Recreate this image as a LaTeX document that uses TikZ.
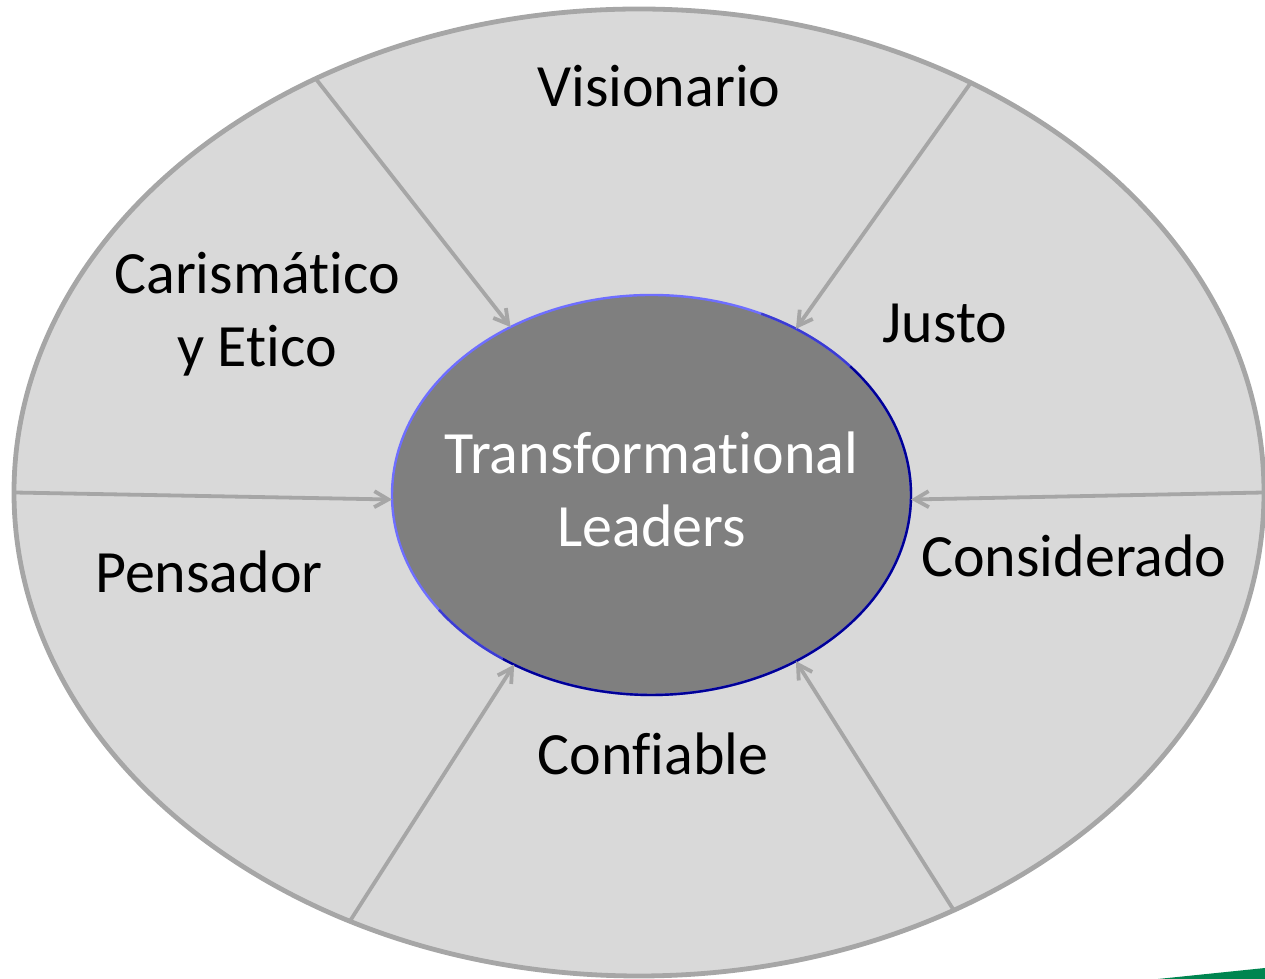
\documentclass[tikz,border=0pt]{standalone}
\usepackage{fontspec}
\setmainfont{Carlito}[Ligatures=NoCommon]
\usetikzlibrary{shapes, arrows.meta}
\definecolor{ringfill}{RGB}{217,217,217}
\definecolor{ringline}{RGB}{166,166,166}
\definecolor{corefill}{RGB}{127,127,127}
\definecolor{rimlight}{RGB}{110,110,255}
\definecolor{rimmid}{RGB}{60,60,210}
\definecolor{rimdark}{RGB}{0,0,150}
\definecolor{slidegreen}{RGB}{0,133,80}

\begin{document}
\begin{tikzpicture}[x=0.5pt, y=0.5pt, >={Straight Barb[length=7pt,width=8pt]},
    every node/.style={font=\fontsize{30}{36.5}\selectfont},
    spoke/.style={draw=ringline, line width=1.9pt}]
\useasboundingbox (0,0) rectangle (1265,979);
\fill[slidegreen] (1158,0) -- (1265,11) -- (1265,0) -- cycle;
\node[ellipse, draw=ringline, fill=ringfill, line width=2.4pt, outer sep=0pt,
    minimum width=625pt, minimum height=483.5pt] at (639, 486.5) (ring) {};
\node[ellipse, draw=rimlight, fill=corefill, line width=1.2pt, outer sep=0pt,
    minimum width=259.5pt, minimum height=200pt] at (651.5, 484) (core) {};
% darker rim toward the lower right
\draw[rimmid, line width=1.2pt] ([shift={(65:259.5 and 200)}]core.center)
    arc[start angle=65, end angle=40, x radius=259.5, y radius=200];
\draw[rimdark, line width=1.2pt] ([shift={(40:259.5 and 200)}]core.center)
    arc[start angle=40, end angle=-125, x radius=259.5, y radius=200];
\draw[rimmid, line width=1.2pt] ([shift={(-125:259.5 and 200)}]core.center)
    arc[start angle=-125, end angle=-145, x radius=259.5, y radius=200];
\path (ring.128) edge[spoke, ->] (core.130);
\path (ring.51)  edge[spoke, ->] (core.49);
\path (ring.180) edge[spoke, ->] (core.181);
\path (ring.0)   edge[spoke, ->] (core.359);
\path (ring.236) edge[spoke, ->] (core.231);
\path (ring.307) edge[spoke, ->] (core.311);
\node[anchor=base] at (659, 872) (vis) {Visionario};
\node[align=center] at (257, 665) (car) {Carismático\\y Etico};
\node[anchor=base] at (945, 636) (jus) {Justo};
\node[anchor=base] at (209, 386) (pen) {Pensador};
\node[anchor=base] at (1074, 402) (cons) {Considerado};
\node[anchor=base] at (653, 204) (conf) {Confiable};
\node[align=center, text=white] at (651.5, 490) (tl) {Transformational\\Leaders};
\end{tikzpicture}
\end{document}
